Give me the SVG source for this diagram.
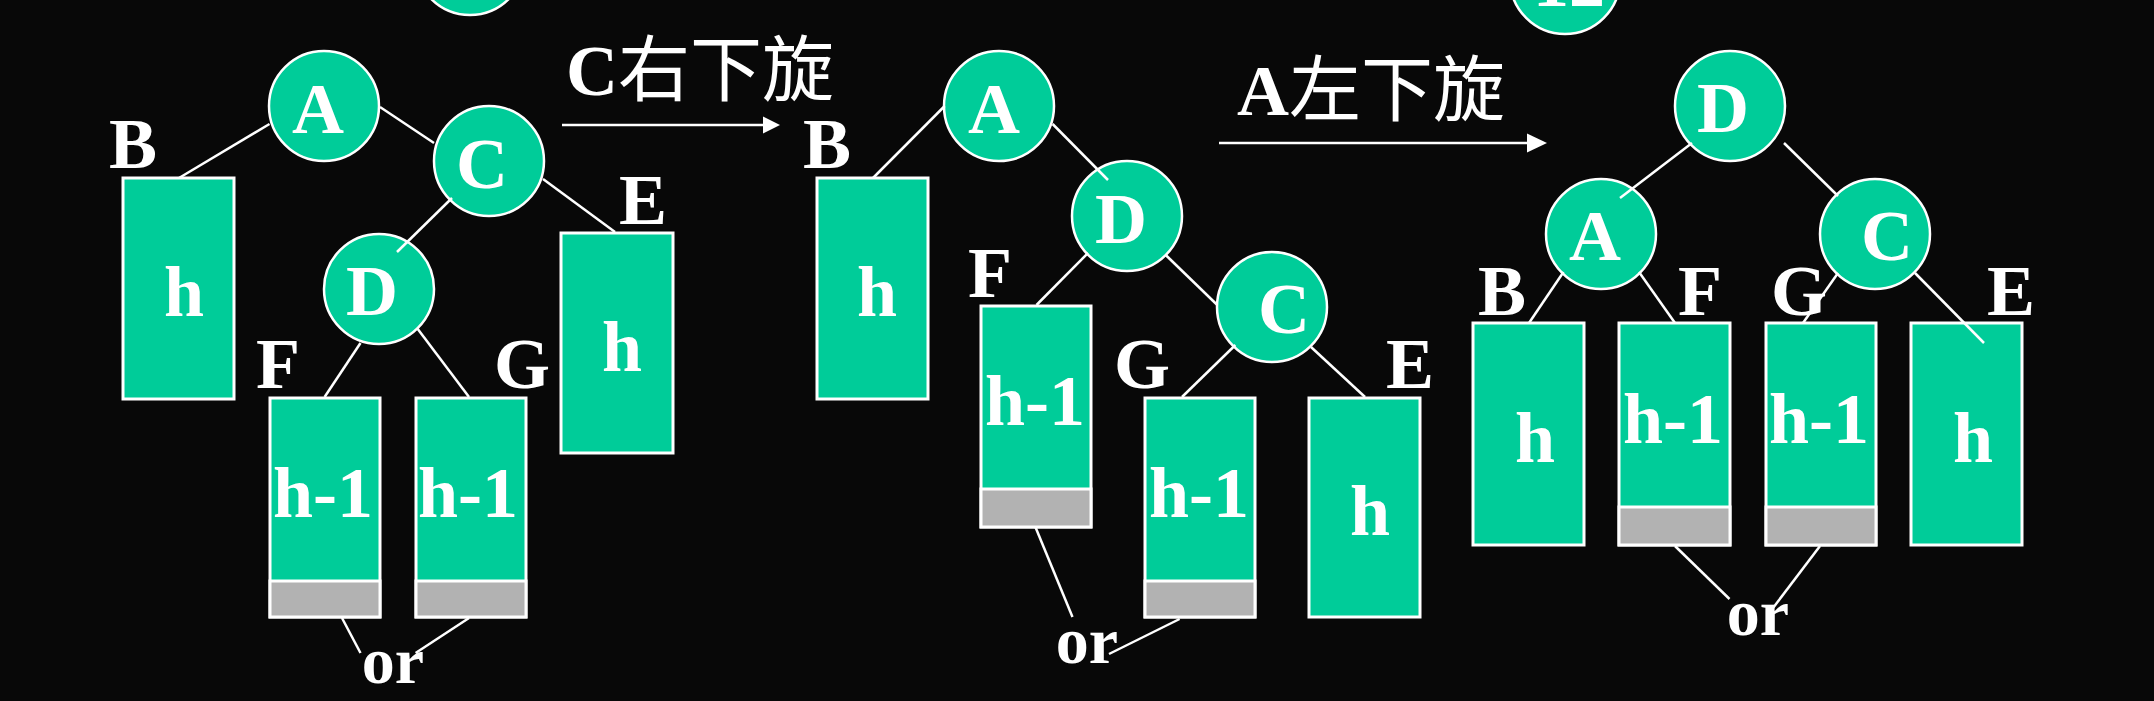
<svg xmlns="http://www.w3.org/2000/svg" width="2154" height="701" viewBox="0 0 2154 701">
<style>
.bg{fill:#080808}
.node{fill:#00CC99;stroke:#FFFFFF;stroke-width:2.5}
.box{fill:#00CC99;stroke:#FFFFFF;stroke-width:3}
.grey{fill:#B2B2B2;stroke:#FFFFFF;stroke-width:3}
.t{font-family:"Liberation Serif","Times New Roman",serif;font-weight:bold;font-size:72px;fill:#FFFFFF;text-anchor:middle}
.or{font-size:66px}
.title{font-family:"Liberation Serif",serif;font-weight:bold;font-size:72px;fill:#FFFFFF}
.cjk{font-family:"Noto Sans CJK SC","Noto Sans CJK JP",sans-serif;font-weight:normal;font-size:72px}
.ln{stroke:#FFFFFF;stroke-width:2.5;fill:none}
</style>
<rect class="bg" x="0" y="0" width="2154" height="701"/>

<!-- partial nodes at top -->
<g id="top1"><circle class="node" cx="470" cy="-40" r="55"/></g>
<g id="top2"><circle class="node" cx="1565" cy="-21" r="55"/><text class="t" x="1569" y="6">12</text></g>

<!-- titles -->
<g id="title1"><text class="title" x="566" y="95">C<tspan class="cjk">右下旋</tspan></text>
<line class="ln" x1="562" y1="125" x2="764" y2="125"/><polygon points="763,116.5 780,125 763,133.5" fill="#FFFFFF"/></g>
<g id="title2"><text class="title" x="1237" y="115">A<tspan class="cjk">左下旋</tspan></text>
<line class="ln" x1="1219" y1="143" x2="1529" y2="143"/><polygon points="1527,133.5 1547,143 1527,152.5" fill="#FFFFFF"/></g>

<!-- Tree 1 -->
<g id="t1A"><circle class="node" cx="324" cy="106" r="55"/><text class="t" x="318" y="133">A</text></g>
<g id="t1C"><circle class="node" cx="489" cy="161" r="55"/><text class="t" x="482" y="188">C</text></g>
<g id="t1D"><circle class="node" cx="379" cy="289" r="55"/><text class="t" x="372" y="315">D</text></g>
<g id="t1B"><rect class="box" x="123" y="178" width="111" height="221"/><text class="t" x="184" y="316">h</text><text class="t" x="133" y="168">B</text></g>
<g id="t1E"><rect class="box" x="561" y="233" width="112" height="220"/><text class="t" x="622" y="371">h</text><text class="t" x="643" y="224">E</text></g>
<g id="t1F"><rect class="box" x="270" y="398" width="110" height="219"/><rect class="grey" x="270" y="581" width="110" height="36"/><text class="t" x="323" y="517">h-1</text><text class="t" x="278" y="388">F</text></g>
<g id="t1G"><rect class="box" x="416" y="398" width="110" height="219"/><rect class="grey" x="416" y="581" width="110" height="36"/><text class="t" x="468" y="517">h-1</text><text class="t" x="522" y="388">G</text></g>
<g id="t1or"><text class="t or" x="393" y="683">or</text></g>

<!-- Tree 2 -->
<g id="t2A"><circle class="node" cx="999" cy="106" r="55"/><text class="t" x="994" y="133">A</text></g>
<g id="t2D"><circle class="node" cx="1127" cy="216" r="55"/><text class="t" x="1121" y="243">D</text></g>
<g id="t2C"><circle class="node" cx="1272" cy="307" r="55"/><text class="t" x="1284" y="333">C</text></g>
<g id="t2B"><rect class="box" x="817" y="178" width="111" height="221"/><text class="t" x="877" y="316">h</text><text class="t" x="827" y="168">B</text></g>
<g id="t2F"><rect class="box" x="981" y="306" width="110" height="221"/><rect class="grey" x="981" y="489" width="110" height="38"/><text class="t" x="1035" y="425">h-1</text><text class="t" x="990" y="297">F</text></g>
<g id="t2G"><rect class="box" x="1145" y="398" width="110" height="219"/><rect class="grey" x="1145" y="581" width="110" height="36"/><text class="t" x="1199" y="517">h-1</text><text class="t" x="1142" y="388">G</text></g>
<g id="t2E"><rect class="box" x="1309" y="398" width="111" height="219"/><text class="t" x="1370" y="535">h</text><text class="t" x="1410" y="388">E</text></g>
<g id="t2or"><text class="t or" x="1087" y="663">or</text></g>

<!-- Tree 3 -->
<g id="t3D"><circle class="node" cx="1730" cy="106" r="55"/><text class="t" x="1723" y="132">D</text></g>
<g id="t3A"><circle class="node" cx="1601" cy="234" r="55"/><text class="t" x="1595" y="260">A</text></g>
<g id="t3C"><circle class="node" cx="1875" cy="234" r="55"/><text class="t" x="1887" y="260">C</text></g>
<g id="t3B"><rect class="box" x="1473" y="323" width="111" height="222"/><text class="t" x="1535" y="462">h</text><text class="t" x="1502" y="315">B</text></g>
<g id="t3F"><rect class="box" x="1619" y="323" width="111" height="222"/><rect class="grey" x="1619" y="507" width="111" height="38"/><text class="t" x="1673" y="443">h-1</text><text class="t" x="1700" y="315">F</text></g>
<g id="t3G"><rect class="box" x="1766" y="323" width="110" height="222"/><rect class="grey" x="1766" y="507" width="110" height="38"/><text class="t" x="1819" y="443">h-1</text><text class="t" x="1799" y="315">G</text></g>
<g id="t3E"><rect class="box" x="1911" y="323" width="111" height="222"/><text class="t" x="1973" y="462">h</text><text class="t" x="2011" y="315">E</text></g>
<g id="t3or"><text class="t or" x="1758" y="635">or</text></g>

<g id="connectors">
<line class="ln" x1="179" y1="178" x2="269.5" y2="124"/>
<line class="ln" x1="380" y1="107" x2="434" y2="143"/>
<line class="ln" x1="452" y1="198" x2="397" y2="252"/>
<line class="ln" x1="543" y1="179" x2="615" y2="232"/>
<line class="ln" x1="360.5" y1="343" x2="324.6" y2="397"/>
<line class="ln" x1="417" y1="328" x2="469" y2="397"/>
<line class="ln" x1="342" y1="618" x2="360.5" y2="653"/>
<line class="ln" x1="469" y1="618" x2="415.6" y2="653"/>

<line class="ln" x1="873" y1="178" x2="944.7" y2="106"/>
<line class="ln" x1="1052.6" y1="124" x2="1108" y2="180"/>
<line class="ln" x1="1088" y1="253" x2="1036.5" y2="305"/>
<line class="ln" x1="1165.7" y1="255" x2="1217.3" y2="305"/>
<line class="ln" x1="1235.4" y1="345" x2="1182" y2="397"/>
<line class="ln" x1="1311" y1="347" x2="1365" y2="397"/>
<line class="ln" x1="1035.4" y1="527" x2="1072.5" y2="617"/>
<line class="ln" x1="1179.6" y1="619" x2="1109" y2="654"/>

<line class="ln" x1="1692" y1="143" x2="1620" y2="198"/>
<line class="ln" x1="1784" y1="143" x2="1838" y2="196"/>
<line class="ln" x1="1563.5" y1="272" x2="1529" y2="323"/>
<line class="ln" x1="1639" y1="272" x2="1675" y2="323"/>
<line class="ln" x1="1838" y1="273" x2="1803" y2="323"/>
<line class="ln" x1="1915" y1="273" x2="1984" y2="343"/>
<line class="ln" x1="1675" y1="546" x2="1729.5" y2="599"/>
<line class="ln" x1="1820" y1="546" x2="1773" y2="608"/>
</g>
</svg>
